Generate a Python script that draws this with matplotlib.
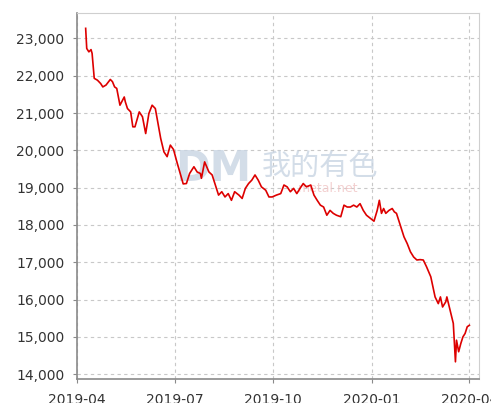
import pandas as pd
import matplotlib
import matplotlib.pyplot as plt
import matplotlib.dates as mdates
from matplotlib.ticker import FuncFormatter

matplotlib.use('Agg')
plt.rcParams['font.family'] = ['DejaVu Sans', 'Noto Sans CJK SC']

# 价格走势
dates = [
    '2019-04-09', '2019-04-10', '2019-04-12', '2019-04-14', '2019-04-15', '2019-04-17',
    '2019-04-20', '2019-04-23', '2019-04-25', '2019-04-28', '2019-05-02', '2019-05-04',
    '2019-05-06', '2019-05-08', '2019-05-10', '2019-05-11', '2019-05-15', '2019-05-16',
    '2019-05-18', '2019-05-21', '2019-05-23', '2019-05-25', '2019-05-29', '2019-06-01',
    '2019-06-04', '2019-06-07', '2019-06-10', '2019-06-13', '2019-06-16', '2019-06-18',
    '2019-06-21', '2019-06-24', '2019-06-27', '2019-06-30', '2019-07-03', '2019-07-06',
    '2019-07-09', '2019-07-12', '2019-07-15', '2019-07-19', '2019-07-22', '2019-07-25',
    '2019-07-26', '2019-07-29', '2019-08-02', '2019-08-05', '2019-08-08', '2019-08-11',
    '2019-08-14', '2019-08-17', '2019-08-20', '2019-08-23', '2019-08-26', '2019-08-30',
    '2019-09-02', '2019-09-05', '2019-09-08', '2019-09-11', '2019-09-14', '2019-09-17',
    '2019-09-20', '2019-09-24', '2019-09-27', '2019-09-30', '2019-10-04', '2019-10-08',
    '2019-10-11', '2019-10-14', '2019-10-17', '2019-10-20', '2019-10-23', '2019-10-26',
    '2019-10-29', '2019-11-01', '2019-11-05', '2019-11-08', '2019-11-11', '2019-11-14',
    '2019-11-17', '2019-11-20', '2019-11-23', '2019-11-26', '2019-11-29', '2019-12-03',
    '2019-12-06', '2019-12-09', '2019-12-12', '2019-12-15', '2019-12-18', '2019-12-21',
    '2019-12-24', '2019-12-27', '2019-12-31', '2020-01-03', '2020-01-06', '2020-01-08',
    '2020-01-10', '2020-01-12', '2020-01-14', '2020-01-17', '2020-01-20', '2020-01-22',
    '2020-01-24', '2020-01-28', '2020-01-31', '2020-02-03', '2020-02-06', '2020-02-09',
    '2020-02-12', '2020-02-15', '2020-02-18', '2020-02-21', '2020-02-25', '2020-02-27',
    '2020-02-29', '2020-03-03', '2020-03-05', '2020-03-07', '2020-03-10', '2020-03-11',
    '2020-03-14', '2020-03-16', '2020-03-17', '2020-03-19', '2020-03-20', '2020-03-22',
    '2020-03-24', '2020-03-26', '2020-03-28', '2020-03-30', '2020-04-01',
]
prices = [
    23270, 22730, 22640, 22700, 22600, 21930,
    21880, 21790, 21700, 21750, 21900, 21840,
    21700, 21660, 21350, 21210, 21430, 21300,
    21120, 21030, 20630, 20630, 21030, 20900,
    20450, 20990, 21210, 21120, 20630, 20320,
    19960, 19830, 20140, 20020, 19700, 19400,
    19100, 19110, 19380, 19560, 19420, 19380,
    19250, 19690, 19420, 19340, 19070, 18800,
    18890, 18750, 18840, 18660, 18890, 18800,
    18710, 18980, 19110, 19200, 19340, 19200,
    19020, 18930, 18750, 18750, 18800, 18840,
    19070, 19020, 18890, 18980, 18840, 18980,
    19110, 19020, 19070, 18800, 18660, 18530,
    18480, 18260, 18390, 18310, 18260, 18220,
    18530, 18480, 18480, 18530, 18480, 18570,
    18390, 18260, 18170, 18100, 18390, 18660,
    18310, 18440, 18310, 18390, 18440, 18350,
    18310, 17950, 17680, 17500, 17280, 17140,
    17060, 17070, 17060, 16880, 16610, 16340,
    16070, 15890, 16070, 15800, 15940, 16070,
    15720, 15490, 15360, 14330, 14910, 14600,
    14820, 15000, 15090, 15270, 15310,
]
x_ticks = ['2019-04-01', '2019-07-01', '2019-10-01', '2020-01-01', '2020-04-01']
y_ticks = [14000, 15000, 16000, 17000, 18000, 19000, 20000, 21000, 22000, 23000]

df = pd.DataFrame({'date': pd.to_datetime(dates), 'price': prices})

fig = plt.figure(figsize=(4.91, 4.03), dpi=100)
ax = fig.add_axes([0.157, 0.0596, 0.8186, 0.908])

ax.plot(df['date'], df['price'], color='#dd0000', linewidth=1.2, zorder=3)

# 水印
ax.text(0.245, 0.575, 'DM', transform=ax.transAxes, fontsize=30, fontweight='bold',
        color='#c9d5e3', alpha=0.8, ha='left', va='center', zorder=1)
ax.text(0.46, 0.58, '我的有色', transform=ax.transAxes, fontsize=21,
        family=['Noto Sans CJK SC'], color='#c9d5e3', alpha=0.8,
        ha='left', va='center', zorder=1)
ax.text(0.55, 0.52, 'metal.net', transform=ax.transAxes, fontsize=9,
        color='#f0c4c4', alpha=0.8, ha='left', va='center', zorder=1)

ax.set_xlim(pd.Timestamp('2019-04-01'), pd.Timestamp('2020-04-10'))
ax.set_ylim(13870, 23680)
ax.set_xticks(pd.to_datetime(x_ticks))
ax.xaxis.set_major_formatter(mdates.DateFormatter('%Y-%m'))
ax.set_yticks(y_ticks)
ax.yaxis.set_major_formatter(FuncFormatter(lambda v, p: f'{int(v):,}'))

ax.grid(True, linestyle=(0, (3, 3)), color='#c8c8c8', linewidth=0.8)
ax.set_axisbelow(True)
for side in ['top', 'right']:
    ax.spines[side].set_color('#cfcfcf')
for side in ['left', 'bottom']:
    ax.spines[side].set_color('#8a8a8a')
    ax.spines[side].set_linewidth(1.2)
ax.tick_params(axis='both', direction='out', length=3, color='#8a8a8a',
               labelsize=10, labelcolor='#333333')
ax.tick_params(axis='y', pad=6)
ax.tick_params(axis='x', pad=7)

plt.savefig('out.png', dpi=100)
